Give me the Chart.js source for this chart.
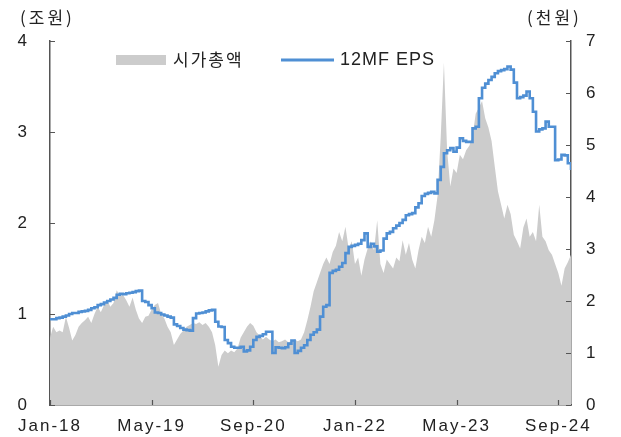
<!DOCTYPE html>
<html>
<head>
<meta charset="utf-8">
<script src="https://cdn.jsdelivr.net/npm/chart.js@4/dist/chart.umd.min.js"></script>
<style>
html,body{margin:0;padding:0;background:#fff;}
#wrap{width:621px;height:437px;position:relative;}
</style>
</head>
<body>
<div id="wrap"><canvas id="c" width="621" height="437"></canvas></div>
<script>
// x-axis tick labels (every 16 months starting Jan-18)
const tickLabels = ['Jan-18','May-19','Sep-20','Jan-22','May-23','Sep-24'];
const seriesNames = ['시가총액','12MF EPS'];
const unitLeft = '(조원)';
const unitRight = '(천원)';

// 시가총액 (조원), half-month samples from Jan-18
const capValues = [
  0.74,0.86,0.80,0.82,0.80,0.97,0.85,0.71,0.77,0.86,
  0.90,0.93,0.97,0.90,1.00,1.08,1.02,1.10,1.15,1.08,
  1.12,1.26,1.20,1.21,1.15,1.08,1.18,1.05,0.95,0.90,
  0.97,0.98,1.05,1.10,1.12,1.00,0.95,0.86,0.80,0.66,
  0.72,0.78,0.82,0.86,0.88,0.90,0.89,0.91,0.88,0.90,
  0.86,0.80,0.66,0.42,0.55,0.60,0.57,0.60,0.58,0.62,
  0.74,0.80,0.86,0.90,0.87,0.80,0.76,0.72,0.75,0.72,
  0.70,0.72,0.69,0.70,0.72,0.69,0.70,0.72,0.70,0.72,
  0.80,0.93,1.08,1.25,1.35,1.45,1.55,1.62,1.55,1.68,
  1.75,1.90,1.80,1.96,1.72,1.80,1.55,1.62,1.42,1.60,
  1.72,1.80,1.70,2.03,1.55,1.45,1.60,1.55,1.50,1.62,
  1.58,1.81,1.65,1.78,1.60,1.50,1.70,1.85,1.78,1.96,
  1.85,2.03,2.30,2.95,3.76,2.80,2.40,2.60,2.55,2.75,
  2.70,2.80,2.85,2.95,3.20,3.27,3.34,3.15,3.05,2.90,
  2.62,2.35,2.20,2.05,2.20,2.10,1.87,1.80,1.72,1.95,
  2.05,1.85,1.90,1.80,2.20,1.85,1.80,1.70,1.65,1.55,
  1.45,1.31,1.50,1.57,1.65
];

// 12MF EPS (천원), half-month samples from Jan-18
const epsValues = [
  1.65,1.65,1.67,1.68,1.70,1.72,1.75,1.77,1.77,1.79,
  1.80,1.81,1.83,1.86,1.88,1.92,1.94,1.97,2.00,2.03,
  2.06,2.12,2.14,2.13,2.15,2.16,2.17,2.19,2.20,2.00,
  1.98,1.92,1.86,1.78,1.77,1.74,1.72,1.70,1.68,1.55,
  1.52,1.48,1.45,1.44,1.43,1.67,1.76,1.77,1.78,1.80,
  1.82,1.83,1.60,1.51,1.50,1.25,1.19,1.12,1.10,1.10,
  1.12,1.03,1.05,1.12,1.25,1.31,1.33,1.36,1.41,1.41,
  1.00,1.11,1.10,1.09,1.11,1.18,1.24,1.00,1.04,1.10,
  1.15,1.25,1.35,1.40,1.45,1.70,1.89,1.92,2.54,2.58,
  2.60,2.66,2.73,2.92,3.04,3.06,3.08,3.10,3.17,3.30,
  3.04,3.10,3.05,2.95,2.97,3.20,3.30,3.33,3.40,3.45,
  3.50,3.56,3.65,3.67,3.69,3.80,3.88,4.02,4.06,4.08,
  4.10,4.07,4.33,4.58,4.84,4.90,4.94,4.87,4.95,5.13,
  5.08,5.06,5.06,5.32,5.35,5.90,6.10,6.18,6.25,6.31,
  6.38,6.42,6.44,6.46,6.51,6.45,6.20,5.90,5.92,5.95,
  6.03,5.90,5.64,5.26,5.30,5.32,5.45,5.35,5.35,4.71,
  4.72,4.81,4.80,4.65,4.52
];

const toPoints = arr => arr.map((v, i) => ({x: i / 2, y: v}));

const TXT = '#222';
const AXIS = '#555';
const numFont = {family: '"Liberation Sans", Arial, sans-serif', size: 17};
const KFONT = '"Noto Sans CJK KR", sans-serif';

const spacing = {
  id: 'spacing',
  beforeDraw(chart) { chart.ctx.letterSpacing = '2px'; }
};

const overlay = {
  id: 'overlay',
  afterDraw(chart) {
    const ctx = chart.ctx;
    const a = chart.chartArea;
    const sx = chart.scales.x, sy = chart.scales.y, sy1 = chart.scales.y1;
    ctx.save();
    ctx.strokeStyle = AXIS;
    ctx.lineWidth = 1.2;
    ctx.beginPath();
    sy.ticks.forEach(t => {
      const p = Math.round(sy.getPixelForValue(t.value)) + 0.5;
      ctx.moveTo(a.left, p); ctx.lineTo(a.left + 5, p);
    });
    sy1.ticks.forEach(t => {
      const p = Math.round(sy1.getPixelForValue(t.value)) + 0.5;
      ctx.moveTo(a.right - 5, p); ctx.lineTo(a.right, p);
    });
    sx.ticks.forEach(t => {
      const p = Math.round(sx.getPixelForValue(t.value)) + 0.5;
      ctx.moveTo(p, a.bottom); ctx.lineTo(p, a.bottom - 5);
    });
    ctx.stroke();

    // unit titles
    ctx.fillStyle = TXT;
    ctx.letterSpacing = '3px';
    ctx.font = '17px ' + KFONT;
    ctx.textBaseline = 'middle';
    ctx.textAlign = 'left';
    ctx.fillText(unitLeft, 20, 18);
    ctx.fillText(unitRight, 527, 18);

    // legend
    const d0 = chart.data.datasets[0], d1 = chart.data.datasets[1];
    const ly = 60;
    ctx.fillStyle = d1.backgroundColor;
    ctx.fillRect(116, ly - 5, 50, 10);
    ctx.fillStyle = TXT;
    ctx.letterSpacing = '2px';
    ctx.font = '17px ' + KFONT;
    ctx.fillText(d1.label, 173, ly);
    ctx.strokeStyle = d0.borderColor;
    ctx.lineWidth = 3;
    ctx.beginPath();
    ctx.moveTo(281, ly); ctx.lineTo(334, ly);
    ctx.stroke();
    ctx.letterSpacing = '1px';
    ctx.font = '18px "Liberation Sans", Arial, sans-serif';
    ctx.fillText(d0.label, 340, ly);
    ctx.restore();
  }
};

new Chart(document.getElementById('c'), {
  type: 'line',
  data: {
    datasets: [
      {
        label: seriesNames[1],
        data: toPoints(epsValues),
        yAxisID: 'y1',
        borderColor: '#4f8fd4',
        borderWidth: 2.6,
        pointRadius: 0,
        stepped: true,
        fill: false,
        order: 0
      },
      {
        label: seriesNames[0],
        data: toPoints(capValues),
        yAxisID: 'y',
        backgroundColor: '#cccccc',
        borderColor: '#cccccc',
        borderWidth: 0,
        pointRadius: 0,
        tension: 0,
        fill: 'origin',
        order: 1
      }
    ]
  },
  options: {
    responsive: false,
    animation: false,
    devicePixelRatio: 1,
    layout: {padding: {top: 41, left: 0, right: 0, bottom: 0}},
    plugins: {legend: {display: false}, tooltip: {enabled: false}},
    scales: {
      x: {
        type: 'linear',
        min: 0,
        max: 82,
        z: 1,
        grid: {display: false, drawTicks: false},
        border: {display: true, color: AXIS, width: 1.5},
        afterBuildTicks: s => { s.ticks = tickLabels.map((_, i) => ({value: i * 16})); },
        afterFit: s => { s.height = 32; },
        ticks: {
          autoSkip: false, maxRotation: 0, padding: 11, color: TXT, font: numFont,
          callback: v => tickLabels[Math.round(v / 16)]
        }
      },
      y: {
        position: 'left',
        min: 0, max: 4,
        z: 1,
        grid: {display: false, drawTicks: false},
        border: {display: true, color: AXIS, width: 1.5},
        afterFit: s => { s.width = 50; },
        ticks: {stepSize: 1, padding: 21, color: TXT, font: numFont}
      },
      y1: {
        position: 'right',
        min: 0, max: 7,
        z: 1,
        grid: {display: false, drawTicks: false},
        border: {display: true, color: AXIS, width: 1.5},
        afterFit: s => { s.width = 50; },
        ticks: {stepSize: 1, padding: 15, color: TXT, font: numFont}
      }
    }
  },
  plugins: [spacing, overlay]
});
</script>
</body>
</html>
